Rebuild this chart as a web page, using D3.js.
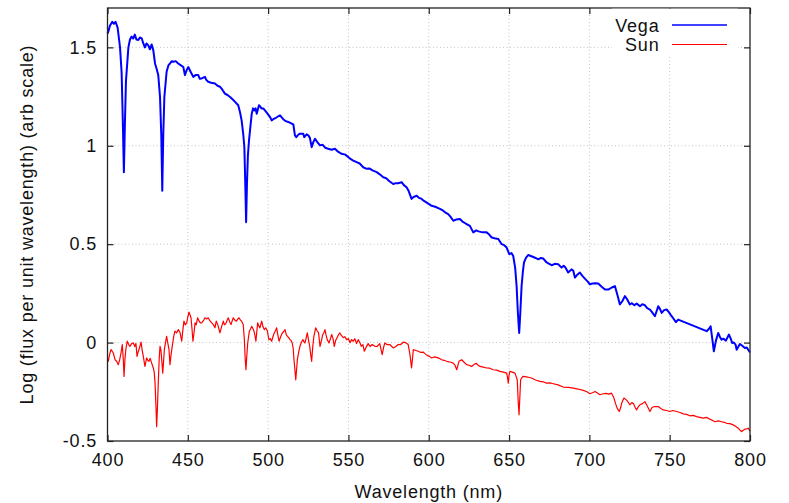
<html>
<head>
<title>Vega and Sun spectra</title>
<script src="https://cdn.jsdelivr.net/npm/d3@7"></script>
<style>
body { margin: 0; background: #fff; }
svg { display: block; }
text { font-family: 'Liberation Sans', Arial, sans-serif; font-size: 18px; letter-spacing: 0.8px; fill: #111; }
.grid line { stroke: #c4c4c4; stroke-width: 1; stroke-dasharray: 1,2.5; }
.axis path { display: none; }
.axis line { stroke: #222; stroke-width: 1.2; }
</style>
</head>
<body>
<svg width="789" height="503"></svg>

<script>

// wavelength (nm), log flux
var vega = [
[400,1.57],[400.5,1.58],[401.5,1.61],[403,1.63],[404,1.62],[405,1.63],[406.3,1.60],[407.8,1.50],[408.8,1.37],[409.6,1.10],
[410.2,0.866],[410.8,1.10],[411.5,1.33],[413,1.50],[414,1.54],[415,1.555],[416,1.545],[417,1.565],[418,1.54],[419.2,1.537],
[420.2,1.55],[421.3,1.546],[422.3,1.52],[423.3,1.50],[424.3,1.52],[425.4,1.51],[426.4,1.49],[427.5,1.515],[428.5,1.486],[429.6,1.418],
[430.6,1.39],[431.6,1.359],[432.7,1.248],[433.5,1.05],[434.1,0.772],[434.7,1.05],[435.4,1.248],[436.8,1.376],[438,1.41],[438.9,1.418],
[440,1.43],[441,1.427],[442.5,1.43],[444,1.418],[445.5,1.41],[447.2,1.40],[448.2,1.359],[449.3,1.385],[450.3,1.40],[451.5,1.38],
[453.4,1.35],[455,1.36],[456.5,1.359],[457.5,1.34],[458.6,1.342],[460.7,1.35],[461.5,1.335],[462.7,1.325],[464.5,1.32],[466.9,1.316],
[468.5,1.305],[470,1.30],[471.5,1.285],[473.1,1.265],[474.7,1.258],[476.3,1.248],[478,1.235],[479.4,1.223],[481.4,1.206],[482.5,1.17],
[483.5,1.129],[484.5,1.06],[485.2,0.993],[485.8,0.80],[486.3,0.612],[486.8,0.80],[487.4,0.95],[488.1,1.027],[489,1.10],[489.8,1.163],
[490.6,1.19],[491.4,1.18],[492.2,1.19],[492.9,1.163],[494.3,1.206],[495,1.20],[496,1.189],[497,1.19],[498,1.18],[499.5,1.165],
[501.2,1.146],[502.2,1.129],[503.2,1.135],[504.5,1.14],[506.3,1.15],[507.4,1.155],[509.4,1.135],[511,1.125],[512.5,1.121],[514.7,1.112],
[515.7,1.108],[516.7,1.053],[517.5,1.044],[519,1.058],[519.8,1.061],[521.9,1.061],[522.5,1.044],[524,1.058],[525,1.053],[526,1.04],
[527.1,0.993],[528.2,1.02],[529.2,1.036],[530.5,1.02],[532.3,1.002],[534,1.005],[535.5,0.99],[537.4,0.985],[539.5,0.98],[541.6,0.985],
[543.5,0.97],[545.8,0.959],[548,0.955],[551,0.935],[553,0.925],[555.1,0.917],[557,0.91],[559.2,0.891],[561.4,0.883],[563,0.885],
[565,0.875],[567.6,0.866],[569.5,0.855],[571.7,0.84],[573.5,0.835],[575.5,0.82],[577.9,0.806],[579.5,0.81],[581,0.81],[583.1,0.815],
[584.5,0.80],[586.2,0.789],[587.5,0.77],[589.3,0.73],[590.5,0.74],[592.5,0.746],[594,0.735],[595.6,0.73],[597,0.72],[599,0.71],
[601.8,0.695],[604,0.69],[607,0.679],[609,0.67],[610.5,0.66],[612.1,0.653],[613.5,0.64],[615.3,0.619],[617,0.625],[619.4,0.628],
[621,0.615],[623,0.605],[625.6,0.593],[627.7,0.56],[629.5,0.57],[631,0.565],[633.5,0.56],[636,0.56],[637.5,0.55],[639.2,0.534],
[641,0.53],[643.3,0.526],[645.4,0.50],[647,0.495],[648.5,0.483],[650.1,0.449],[651.5,0.455],[652.6,0.44],[653.8,0.38],[654.7,0.287],
[655.5,0.15],[656.3,0.049],[657,0.15],[657.8,0.287],[658.6,0.36],[659.3,0.407],[660.5,0.43],[661.9,0.445],[663.5,0.44],[665.1,0.435],
[666.5,0.43],[668.2,0.423],[669.8,0.43],[671.3,0.427],[673.4,0.407],[675,0.40],[676.5,0.393],[678.5,0.40],[680.6,0.398],[682.7,0.381],
[684,0.39],[685,0.383],[686.8,0.356],[688.9,0.372],[690,0.365],[691,0.33],[692.5,0.345],[694.1,0.356],[695.5,0.34],[697.2,0.325],
[699,0.31],[700.3,0.296],[702,0.30],[703.5,0.302],[705.5,0.30],[707.5,0.285],[709.7,0.27],[712,0.27],[714,0.28],[715.9,0.287],
[717.5,0.24],[719,0.194],[720.5,0.21],[722.1,0.236],[723.5,0.22],[725.2,0.194],[726.5,0.20],[728,0.19],[729.5,0.198],[731.5,0.185],
[733,0.195],[734.5,0.19],[736,0.175],[737.7,0.168],[739,0.155],[740.8,0.134],[742.9,0.185],[744,0.17],[745,0.151],[746.5,0.165],
[748.1,0.168],[749.5,0.155],[751.2,0.134],[752.5,0.12],[753.9,0.104],[755.3,0.117],[773,0.058],[774.5,0.07],[775.5,0.083],[776.5,0.02],
[777.5,-0.044],[778.8,0.01],[780.2,0.049],[781.2,0.03],[782.3,0.015],[783.5,0.02],[785,0.01],[786.9,0.041],[788,0.02],[788.9,-0.002],
[790,0.0],[791,-0.01],[791.7,-0.036],[792.8,-0.02],[793.7,-0.007],[795,-0.015],[796.8,-0.027],[798,-0.025],[799.5,-0.044],[800,-0.05]
];

var sun = [
[400,-0.08],[400.5,-0.095],[401.3,-0.06],[402.2,-0.036],[403,-0.045],[403.6,-0.053],[404.7,-0.087],[405.7,-0.095],[406.7,-0.112],[407.5,-0.09],
[408.4,-0.053],[409.2,-0.01],[409.8,-0.08],[410.3,-0.172],[410.9,-0.08],[411.5,-0.03],[412.3,0.007],[413.2,-0.01],[414,-0.019],[415,-0.005],
[416.1,-0.002],[417,-0.02],[417.7,-0.005],[418.4,-0.07],[419,-0.05],[419.8,-0.03],[420.9,0.002],[421.6,-0.04],[422.3,-0.07],[423.3,-0.121],
[424.4,-0.078],[425.1,-0.09],[425.8,-0.095],[426.6,-0.08],[427.5,-0.104],[428.5,-0.129],[429.1,-0.15],[429.6,-0.206],[430.2,-0.33],[430.6,-0.427],
[431.1,-0.33],[431.6,-0.206],[432.2,-0.08],[432.7,-0.019],[433.3,-0.04],[434.4,-0.155],[435.4,-0.036],[436.1,0.0],[436.8,0.032],[437.5,0.0],
[438.3,-0.036],[438.9,-0.112],[439.6,-0.06],[440.3,-0.019],[441.2,0.03],[442,0.058],[443,0.05],[444.1,0.066],[445.2,0.05],[446.2,0.007],
[447,0.07],[447.6,0.109],[448.4,0.09],[449.3,0.10],[450,0.13],[450.7,0.155],[451.4,0.14],[452,0.126],[452.7,0.06],[453.2,0.007],
[454,0.06],[454.5,0.10],[455.2,0.09],[456.1,0.126],[457,0.11],[457.8,0.1],[458.6,0.10],[459.6,0.11],[460.7,0.126],[461.7,0.12],
[462.7,0.126],[463.8,0.11],[464.9,0.10],[466,0.09],[466.9,0.075],[467.7,0.109],[468.7,0.09],[470,0.049],[471,0.08],[472.1,0.109],
[472.8,0.09],[473.5,0.095],[474.3,0.11],[475.2,0.126],[476.1,0.105],[476.9,0.092],[477.6,0.11],[478.3,0.126],[479.2,0.115],[480.3,0.109],
[481.1,0.12],[481.9,0.126],[482.7,0.115],[483.5,0.109],[484.5,0.092],[485.2,0.015],[485.7,-0.08],[486.2,-0.138],[486.7,-0.07],[487.3,-0.002],
[488.3,0.058],[489.1,0.07],[489.8,0.083],[490.6,0.07],[491.5,0.05],[492.4,0.007],[493,0.06],[493.5,0.10],[494.2,0.085],[494.9,0.075],
[496,0.109],[496.8,0.08],[497.6,0.066],[498.5,0.075],[499.5,0.06],[500.5,0.015],[501.3,0.02],[502.2,0.007],[503,0.03],[503.8,0.049],
[504.6,0.06],[505.3,0.075],[506,0.04],[506.8,0.007],[507.8,0.03],[508.8,0.049],[509.6,0.055],[510.5,0.066],[511.3,0.04],[512,0.032],
[512.8,0.025],[513.6,0.015],[514.3,0.01],[515,-0.002],[515.6,-0.03],[516.1,-0.087],[516.7,-0.14],[517.2,-0.189],[517.7,-0.14],[518.2,-0.087],
[519,-0.05],[519.8,-0.019],[520.7,0.0],[521.6,0.015],[522.3,0.005],[522.9,-0.002],[523.6,0.02],[524.4,0.049],[525.2,0.01],[525.9,-0.019],
[526.5,-0.06],[527.1,-0.095],[527.8,-0.02],[528.5,0.032],[529.6,0.075],[530.5,0.06],[531.4,0.049],[532.3,-0.019],[533.2,0.01],[534,0.041],
[534.7,0.05],[535.4,0.066],[536,0.04],[536.8,0.015],[537.9,-0.002],[538.8,0.02],[539.6,0.041],[540.4,0.02],[541.2,-0.019],[542,0.01],
[542.9,0.025],[543.8,0.04],[544.7,0.049],[545.7,0.035],[546.8,0.025],[547.8,0.03],[548.9,0.015],[550,0.02],[551,0.0],[552,0.015],
[553,0.007],[554,0.02],[555,-0.005],[556.1,0.015],[557.2,-0.002],[558,-0.019],[559,-0.01],[559.9,-0.044],[561.3,-0.019],[562.3,-0.005],
[563.5,-0.02],[564.8,-0.01],[566.5,-0.019],[567.8,-0.02],[569.5,-0.005],[571,-0.061],[572,-0.02],[572.7,-0.002],[574,-0.01],[575.7,-0.01],
[577,-0.02],[577.9,-0.027],[579.5,-0.02],[581,-0.01],[582.5,-0.01],[584.1,0.002],[585.5,0.0],[587.2,-0.01],[588.3,-0.061],[589.3,-0.129],
[589.9,-0.08],[590.4,-0.036],[592,-0.04],[593.5,-0.044],[595,-0.05],[596.5,-0.048],[597.6,-0.056],[599,-0.065],[600.4,-0.07],[601.8,-0.078],
[603.3,-0.073],[605,-0.075],[606.5,-0.08],[608,-0.087],[609.6,-0.09],[611.1,-0.095],[612.5,-0.098],[613.8,-0.1],[615.2,-0.104],[616.3,-0.115],
[617.4,-0.138],[618.2,-0.115],[618.8,-0.095],[620.5,-0.087],[622,-0.1],[623.6,-0.112],[625,-0.115],[626.7,-0.121],[628,-0.113],[629.5,-0.105],
[630.8,-0.115],[631.9,-0.121],[634,-0.125],[636,-0.129],[638,-0.13],[640.2,-0.138],[642.3,-0.14],[644.3,-0.146],[646.5,-0.15],[648.5,-0.155],
[649,-0.175],[649.5,-0.206],[650,-0.165],[650.5,-0.146],[652,-0.15],[653.7,-0.155],[655.1,-0.189],[655.7,-0.30],[656.2,-0.367],[656.7,-0.28],
[657.2,-0.189],[658.5,-0.172],[660,-0.173],[661.5,-0.175],[664,-0.18],[666.5,-0.19],[669.2,-0.197],[671.5,-0.2],[673.4,-0.206],[675.5,-0.205],
[677.5,-0.209],[680.5,-0.215],[683.7,-0.226],[687,-0.228],[690,-0.231],[693,-0.236],[696.2,-0.243],[698.5,-0.25],[700.3,-0.26],[702,-0.255],
[703.5,-0.248],[705,-0.256],[706.6,-0.265],[708.5,-0.26],[710.5,-0.258],[712.2,-0.262],[713.8,-0.257],[715.3,-0.282],[716.3,-0.31],[717.3,-0.333],
[718.6,-0.35],[719.5,-0.33],[720.1,-0.308],[721.5,-0.282],[723.5,-0.295],[725.2,-0.316],[726.4,-0.305],[727.5,-0.31],[728.5,-0.33],[729.4,-0.342],
[730.5,-0.325],[731.5,-0.316],[733,-0.31],[734.6,-0.3],[736.2,-0.325],[737.7,-0.35],[739,-0.33],[740.5,-0.325],[742.9,-0.325],[744.5,-0.335],
[746,-0.342],[748,-0.345],[750.1,-0.35],[752,-0.345],[754.3,-0.35],[756.5,-0.355],[758.4,-0.362],[760.5,-0.365],[762.6,-0.372],[764.7,-0.37],
[766.7,-0.376],[768.8,-0.38],[770.9,-0.384],[773,-0.38],[775,-0.389],[776.5,-0.395],[778.1,-0.402],[780.2,-0.398],[782.3,-0.402],[784,-0.405],
[785.4,-0.41],[787.5,-0.412],[789.5,-0.418],[791,-0.425],[792.7,-0.435],[793.8,-0.445],[794.8,-0.452],[795.8,-0.445],[796.8,-0.44],[798,-0.438],
[798.9,-0.435],[800,-0.45]
];

var xTicks = [400, 450, 500, 550, 600, 650, 700, 750, 800];
var yTicks = [-0.5, 0, 0.5, 1, 1.5];
var yTickLabels = ["-0.5", "0", "0.5", "1", "1.5"];
var seriesNames = ["Vega", "Sun"];
var seriesColors = ["#0000ff", "#ff0000"];

var svg = d3.select("svg");
var margin = {top: 8, right: 39, bottom: 62, left: 107.5};
var width = 789 - margin.left - margin.right;
var height = 503 - margin.top - margin.bottom;

var x = d3.scaleLinear().domain([400, 800]).range([0, width]);
var y = d3.scaleLinear().domain([-0.5, 1.7]).range([height, 0]);

var g = svg.append("g").attr("transform", "translate(" + margin.left + "," + margin.top + ")");

// dotted grid
var grid = g.append("g").attr("class", "grid");
grid.selectAll("line.gx").data(xTicks.slice(1, -1)).enter().append("line")
	.attr("class", "gx")
	.attr("x1", function (d) { return x(d); }).attr("x2", function (d) { return x(d); })
	.attr("y1", 0).attr("y2", height);
grid.selectAll("line.gy").data(yTicks.slice(1)).enter().append("line")
	.attr("class", "gy")
	.attr("x1", 0).attr("x2", width)
	.attr("y1", function (d) { return y(d); }).attr("y2", function (d) { return y(d); });

// spectra
var line = d3.line()
	.x(function (d) { return x(d[0]); })
	.y(function (d) { return y(d[1]); });

g.append("path").datum(sun)
	.attr("d", line)
	.attr("fill", "none").attr("stroke", seriesColors[1]).attr("stroke-width", 1.2)
	.attr("stroke-linejoin", "round");
g.append("path").datum(vega)
	.attr("d", line)
	.attr("fill", "none").attr("stroke", seriesColors[0]).attr("stroke-width", 2)
	.attr("stroke-linejoin", "round");

// axes, ticks pointing inwards like gnuplot
var fmt = function (d) { return yTickLabels[yTicks.indexOf(d)]; };
g.append("g").attr("class", "axis").attr("transform", "translate(0," + height + ")")
	.call(d3.axisBottom(x).tickValues(xTicks).tickSizeInner(-6).tickSizeOuter(0).tickPadding(12.7).tickFormat(d3.format("d")));
g.append("g").attr("class", "axis")
	.call(d3.axisLeft(y).tickValues(yTicks).tickSizeInner(-6).tickSizeOuter(0).tickPadding(10.5).tickFormat(fmt));
g.append("g").attr("class", "axis")
	.call(d3.axisTop(x).tickValues(xTicks).tickSizeInner(-6).tickSizeOuter(0).tickFormat(""));
g.append("g").attr("class", "axis").attr("transform", "translate(" + width + ",0)")
	.call(d3.axisRight(y).tickValues(yTicks).tickSizeInner(-6).tickSizeOuter(0).tickFormat(""));
g.selectAll(".axis text").attr("fill", "#111").style("font-size", "18px").attr("font-family", null);

// frame
g.append("rect").attr("width", width).attr("height", height)
	.attr("fill", "none").attr("stroke", "#222").attr("stroke-width", 1.3);

// legend (white box hides the grid behind it)
var legend = g.append("g").attr("transform", "translate(" + (width - 138) + ",0.7)");
legend.append("rect").attr("x", 0).attr("y", 0).attr("width", 126).attr("height", 46).attr("fill", "#fff");
legend.selectAll("text").data(seriesNames).enter().append("text")
	.attr("x", 47.5).attr("y", function (d, i) { return 23 + i * 19.5; })
	.attr("text-anchor", "end")
	.text(function (d) { return d; });
legend.selectAll("line").data(seriesNames).enter().append("line")
	.attr("x1", 60).attr("x2", 115)
	.attr("y1", function (d, i) { return 16.3 + i * 19.5; }).attr("y2", function (d, i) { return 16.3 + i * 19.5; })
	.attr("stroke", function (d, i) { return seriesColors[i]; })
	.attr("stroke-width", function (d, i) { return i == 0 ? 1.6 : 1.1; });

// axis titles
svg.append("text")
	.attr("x", margin.left + width / 2).attr("y", 497.5)
	.attr("text-anchor", "middle")
	.text("Wavelength (nm)");
svg.append("text")
	.attr("transform", "translate(33.3," + (margin.top + height / 2) + ") rotate(-90)")
	.attr("text-anchor", "middle")
	.text("Log (flux per unit wavelength) (arb scale)");

</script>
</body>
</html>
